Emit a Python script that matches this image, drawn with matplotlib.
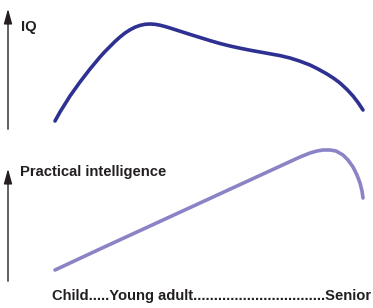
import numpy as np
import matplotlib.pyplot as plt

# curves, in pixel coords (y down)
iq_x = [55, 60, 65, 70, 75, 80, 85, 90, 95, 100, 105, 110, 115, 120, 125, 130, 135, 140, 145, 150, 155, 160, 165, 170, 175,
        180, 190, 200, 210, 220, 230, 240, 250, 260, 270, 280, 290, 300, 310, 318, 327, 334, 340, 347, 353, 358, 363]
iq_y = [121, 112, 104, 96, 89, 82, 75.5, 69, 63, 57, 51.5, 46.5, 41.5, 37, 33, 29.8, 27.2, 25.4, 24.3, 24, 24.3, 25.2, 26.5, 28, 29.6,
        31.2, 34.4, 37.5, 40.6, 43.5, 46, 48.2, 50.2, 52, 53.8, 55.6, 58, 61.2, 65, 69, 74, 78.5, 83, 89.5, 96, 102.5, 110]

pi_x = [55, 100, 150, 200, 250, 300, 310, 317, 323, 330, 336, 343, 348, 353, 357, 360, 362, 363]
pi_y = [270, 249, 226, 203, 180, 157, 153, 151, 150, 150, 151, 155, 160, 167, 175, 183, 191, 198]

labels = ['IQ', 'Practical intelligence', 'Child.....Young adult' + '.' * 32 + 'Senior']

fig = plt.figure(figsize=(3.73, 3.08), dpi=100)
ax = fig.add_axes([0, 0, 1, 1])
ax.set_xlim(0, 373)
ax.set_ylim(308, 0)
ax.axis('off')

ax.plot(iq_x, iq_y, color='#2e3192', lw=2.6, solid_capstyle='round', solid_joinstyle='round')
ax.plot(pi_x, pi_y, color='#8a84c6', lw=2.6, solid_capstyle='round', solid_joinstyle='round')

arrow = dict(arrowstyle='-|>,head_length=0.9,head_width=0.25', color='#231f20', lw=1.0)
ax.annotate('', xy=(8, 6), xytext=(8, 132), arrowprops=arrow)
ax.annotate('', xy=(8, 166), xytext=(8, 284), arrowprops=arrow)

fs = 10.6
ax.text(21, 27, labels[0], fontsize=fs, fontweight='bold', color='#231f20', va='center', ha='left', family='Liberation Sans')
ax.text(20, 172, labels[1], fontsize=fs, fontweight='bold', color='#231f20', va='center', ha='left', family='Liberation Sans')
ax.text(52, 296, labels[2], fontsize=fs, fontweight='bold', color='#231f20', va='center', ha='left', family='Liberation Sans')

plt.savefig('out.png', dpi=100)
